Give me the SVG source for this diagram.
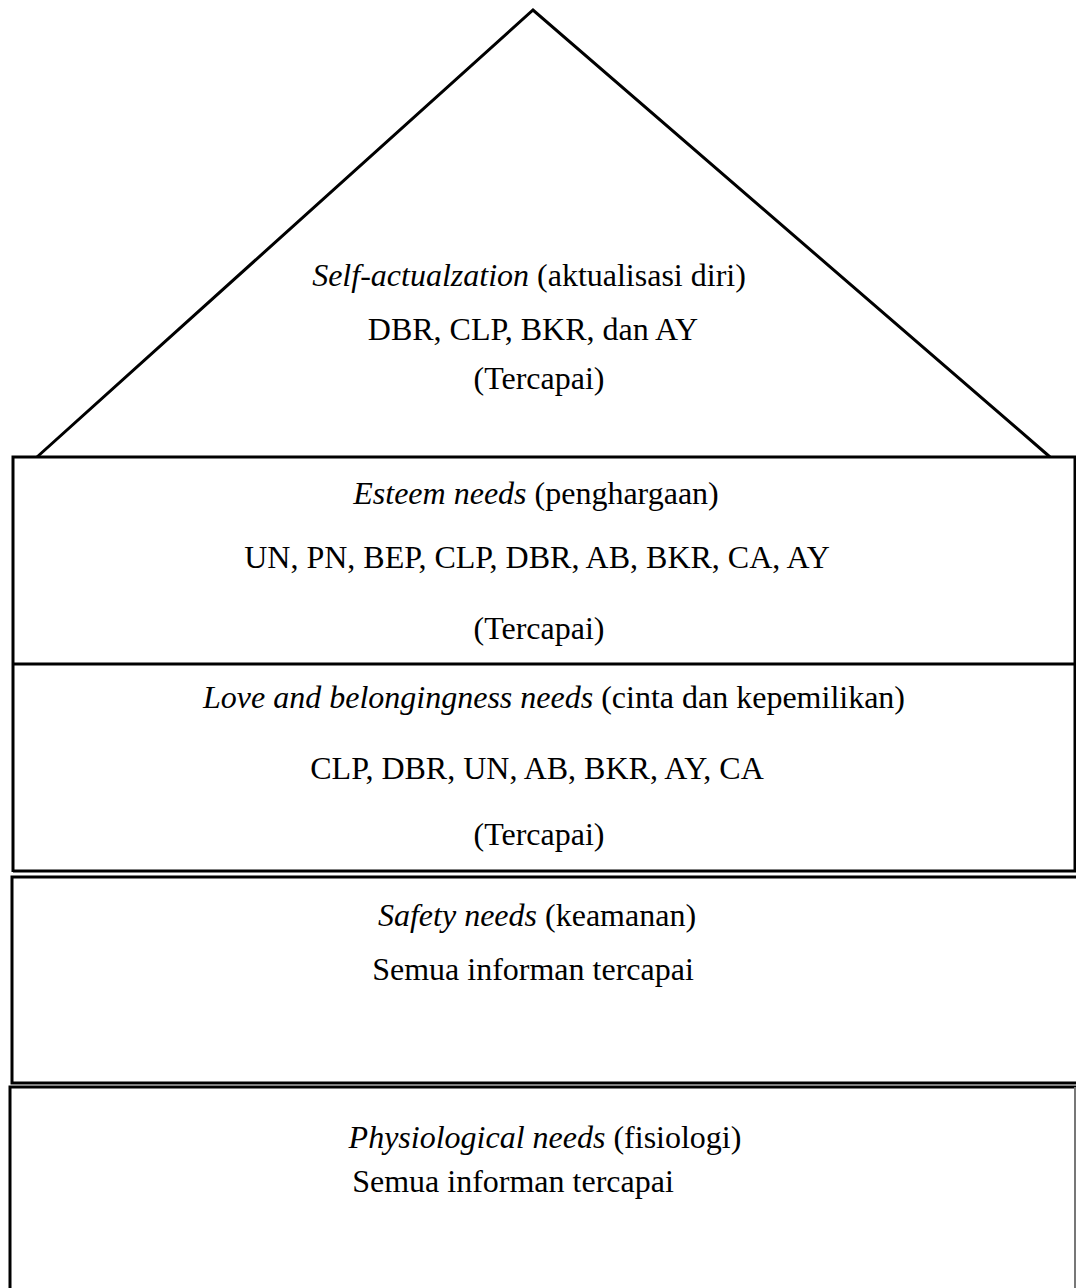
<svg xmlns="http://www.w3.org/2000/svg" width="1076" height="1288" viewBox="0 0 1076 1288">
<style>
.ln{fill:none;stroke:#000;stroke-width:3}
.t{font-family:"Liberation Serif","Times New Roman",serif;font-size:32px;fill:#000;text-anchor:middle}
.i{font-style:italic}
</style>
<rect width="1076" height="1288" fill="#fff"/>
<g id="self-actualization">
<polyline class="ln" points="37,457 533,10 1050,457"/>
<text class="t" x="529" y="286"><tspan class="i">Self-actualzation</tspan> (aktualisasi diri)</text>
<text class="t" x="533" y="340">DBR, CLP, BKR, dan AY</text>
<text class="t" x="539" y="389">(Tercapai)</text>
</g>
<g id="esteem">
<path class="ln" d="M13,872 V457 H1075 V664"/>
<text class="t" x="536" y="504"><tspan class="i">Esteem needs</tspan> (penghargaan)</text>
<text class="t" x="537" y="568">UN, PN, BEP, CLP, DBR, AB, BKR, CA, AY</text>
<text class="t" x="539" y="639">(Tercapai)</text>
</g>
<g id="love">
<path class="ln" d="M13,664 H1075 V871 H13"/>
<text class="t" x="554" y="708"><tspan class="i">Love and belongingness needs</tspan> (cinta dan kepemilikan)</text>
<text class="t" x="537" y="779">CLP, DBR, UN, AB, BKR, AY, CA</text>
<text class="t" x="539" y="845">(Tercapai)</text>
</g>
<g id="safety">
<path class="ln" d="M1076,877 H12 V1083 H1076"/>
<text class="t" x="537" y="926"><tspan class="i">Safety needs</tspan> (keamanan)</text>
<text class="t" x="533" y="980">Semua informan tercapai</text>
</g>
<g id="physiological">
<path class="ln" d="M1076,1087 H10 V1288"/>
<line x1="1075" y1="1087" x2="1075" y2="1288" stroke="#777" stroke-width="2"/>
<text class="t" x="545" y="1148"><tspan class="i">Physiological needs</tspan> (fisiologi)</text>
<text class="t" x="513" y="1192">Semua informan tercapai</text>
</g>
<g id="connectors"></g>
</svg>
